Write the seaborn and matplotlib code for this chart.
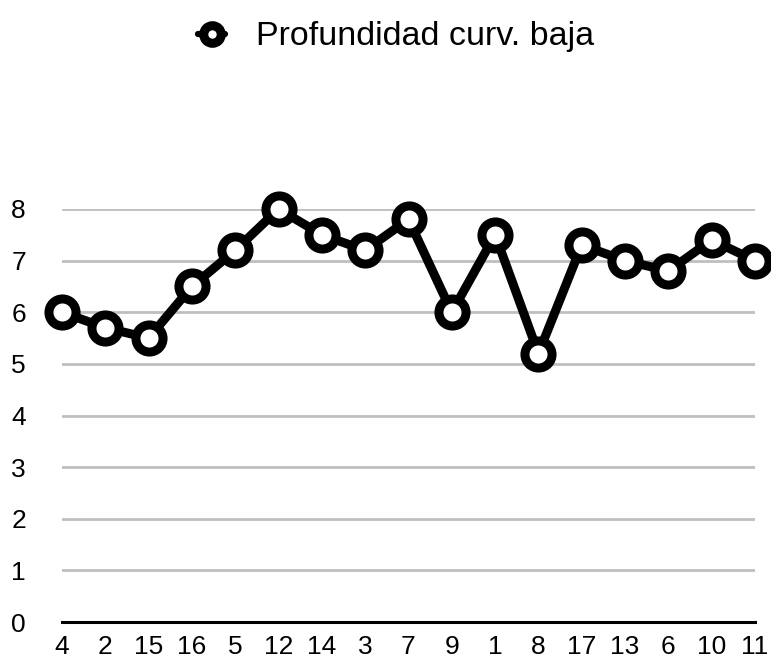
import matplotlib
matplotlib.use("Agg")
import matplotlib.pyplot as plt
import pandas as pd
import seaborn as sns

categories = ["4", "2", "15", "16", "5", "12", "14", "3", "7", "9", "1", "8", "17", "13", "6", "10", "11"]
profundidad = [6.0, 5.7, 5.5, 6.5, 7.2, 8.0, 7.5, 7.2, 7.8, 6.0, 7.5, 5.2, 7.3, 7.0, 6.8, 7.4, 7.0]
series_name = "Profundidad curv. baja"

df = pd.DataFrame({"muestra": categories, "valor": profundidad})

sns.set_theme(style="white")
plt.rcParams["font.family"] = ["Liberation Sans", "DejaVu Sans"]
plt.rcParams["text.color"] = "black"

fig = plt.figure(figsize=(7.71, 6.62), dpi=100)
ax = fig.add_axes([62 / 771, 40 / 662, (755 - 62) / 771, (622 - 209) / 662])

sns.lineplot(
    data=df, x="muestra", y="valor", ax=ax, color="black", lw=6.5,
    marker="o", markersize=19.5, markerfacecolor="white",
    markeredgecolor="black", markeredgewidth=6.5, clip_on=False,
    label=series_name, zorder=5, sort=False,
)

ax.set_xlim(0, len(categories) - 1)
ax.set_ylim(0, 8)
ax.set_yticks(range(0, 9))
ax.yaxis.grid(True, color="#bfbfbf", lw=2)
ax.xaxis.grid(False)
for side in ["top", "right", "left"]:
    ax.spines[side].set_visible(False)
ax.spines["bottom"].set_color("black")
ax.spines["bottom"].set_linewidth(2.2)
ax.spines["bottom"].set_zorder(6)
ax.tick_params(axis="both", labelsize=19, length=0, colors="black")
ax.tick_params(axis="y", pad=26)
ax.tick_params(axis="x", pad=9)
ax.set_xlabel("")
ax.set_ylabel("")

leg = ax.legend(
    loc="center", bbox_to_anchor=(0.482, (662 - 37 - 40) / (622 - 209)),
    frameon=False, fontsize=24.5, handlelength=0.8, handletextpad=0.9,
    markerscale=0.65,
)
for t in leg.get_texts():
    t.set_color("black")
for h in leg.legend_handles:
    h.set_linewidth(4.5)

fig.savefig("out.png", dpi=100)
